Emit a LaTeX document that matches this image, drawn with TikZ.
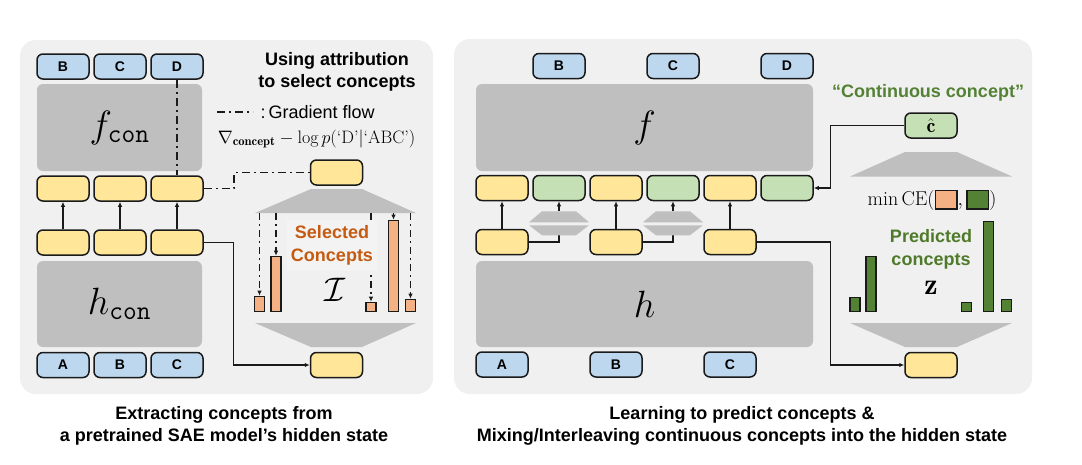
\RequirePackage{fix-cm}
\documentclass[tikz,border=0pt]{standalone}
\usepackage{amsmath,amssymb}
\usepackage{fontspec}
\setsansfont{Liberation Sans}
\usepackage{xcolor}
\usepackage{tikz}
\usetikzlibrary{arrows.meta,positioning,calc}
\definecolor{cPanel}{HTML}{F0F0F0}
\definecolor{cBlock}{HTML}{BFBFBF}
\definecolor{cTok}{HTML}{BDD7EE}
\definecolor{cHid}{HTML}{FFE699}
\definecolor{cCont}{HTML}{C5E0B4}
\definecolor{cBar}{HTML}{F4B183}
\definecolor{cDark}{HTML}{548235}
\definecolor{cSel}{HTML}{C55A11}
\definecolor{cPred}{HTML}{4F7A2A}
\definecolor{cLine}{HTML}{1A1A1A}
\newcommand{\fsz}[2]{\fontsize{#1}{#2}\selectfont}
\newcommand{\cebox}[1]{\raisebox{-3pt}{\setlength{\fboxsep}{0pt}\setlength{\fboxrule}{1.3pt}\fcolorbox{cLine}{#1}{\rule{0pt}{17.4pt}\hspace{20.4pt}}}}
\tikzset{
  tok/.style ={draw=cLine, line width=1.5pt, rounded corners=6pt, fill=cTok,
               minimum width=52pt, minimum height=25pt, inner sep=0pt,
               font=\sffamily\bfseries\fsz{14}{16}},
  hid/.style ={tok, fill=cHid},
  cont/.style={tok, fill=cCont},
  block/.style={fill=cBlock, rounded corners=6pt, inner sep=0pt, font=\fsz{38}{40}},
  obar/.style={draw=cLine, line width=1.3pt, fill=cBar, minimum width=10pt,
               inner sep=0pt, anchor=south},
  gbar/.style={obar, fill=cDark},
  arrow/.style={-{Latex[length=5pt,width=4.5pt]}, line width=1.4pt, draw=cLine},
  darrow/.style={arrow, dash pattern=on 7pt off 4pt on 2pt off 4pt},
  gline/.style={line width=1.6pt, draw=cLine, dash pattern=on 8pt off 4pt on 2pt off 4pt},
  capt/.style={font=\sffamily\bfseries\fsz{18}{22}, align=center},
}

\begin{document}
\begin{tikzpicture}[x=1pt,y=-1pt]
\useasboundingbox (0,0) rectangle (1082,464);
\fill[cPanel, rounded corners=16pt] (20,40) rectangle (433,394);
\fill[cPanel, rounded corners=16pt] (454,39) rectangle (1032,394);

% left panel: extracting concepts
\node[block, minimum width=165pt, minimum height=87pt] (fcon) at (119.5,127.5) {$f_{\mathtt{con}}$};
\node[block, minimum width=165pt, minimum height=86pt] (hcon) at (119.5,304) {$h_{\mathtt{con}}$};
\foreach \n/\x/\t in {1/63/B, 2/120/C, 3/177/D} \node[tok] (tt\n) at (\x,66.5) {\t};
\foreach \n/\x/\t in {1/63/A, 2/120/B, 3/177/C} \node[tok] (tb\n) at (\x,365) {\t};
\foreach \n/\x in {1/63, 2/120, 3/177} {
  \node[hid] (hu\n) at (\x,188.5) {};
  \node[hid] (hl\n) at (\x,242.5) {};
  \draw[arrow] (hl\n) -- (hu\n);
}
\draw[gline] (tt3.south) -- (hu3.north);
\node[hid] (sel) at (336.5,172.5) {};
\node[hid] (ext) at (336.5,365) {};
\draw[gline] (hu3.east) -- ++(30,0) |- (sel.west);
\draw[arrow] (hl3.east) -- ++(30,0) |- (ext.west);
\fill[cBlock] (311,189) -- (362,189) -- (416,213) -- (255,213) -- cycle;
\fill[cBlock] (255,323) -- (416,323) -- (362,347) -- (311,347) -- cycle;

\node[font=\sffamily\bfseries\fsz{18}{22.5}, align=center] (ttl) at (337,72) {Using attribution\\to select concepts};
\node[font=\sffamily\fsz{18}{22}, anchor=west] (leg) at (257,112) {:\,Gradient flow};
\draw[gline] ([xshift=-40pt]leg.west) -- ([xshift=-4pt]leg.west);
\node[font=\fsz{18}{22}] (grad) at (316.5,139) {$\nabla_{\mathbf{concept}}-\log p(\text{`D'}|\text{`ABC'})$};

\coordinate (obase) at (0,213);
\foreach \n/\x/\h in {1/259.5/15, 2/276/55, 3/371/9, 4/393.5/91, 5/410.5/12} {
  \node[obar, minimum height=\h pt] (ob\n) at (\x,312) {};
  \draw[darrow] (ob\n.north |- obase) -- (ob\n.north);
}
\node[font=\sffamily\bfseries\fsz{18}{23}, text=cSel, align=center, fill=cPanel!80!white,
      inner xsep=4pt, inner ysep=6pt] (selc) at (332,245.5) {Selected\\Concepts};
\node[font=\fsz{34}{34}] (iset) at (335,290) {$\mathcal{I}$};

% right panel: predicting and mixing concepts
\node[block, minimum width=337pt, minimum height=87pt] (fm) at (644.5,127.5) {$f$};
\node[block, minimum width=337pt, minimum height=86pt] (hm) at (644.5,304) {$h$};
\foreach \n/\x/\t in {1/559/B, 2/673/C, 3/787/D} \node[tok] (rt\n) at (\x,66) {\t};
\foreach \n/\x/\t in {1/502/A, 2/616/B, 3/730/C} \node[tok] (rb\n) at (\x,364.5) {\t};
\foreach \n/\x in {1/502, 2/616, 3/730} {
  \node[hid] (ru\n) at (\x,188) {};
  \node[hid] (rl\n) at (\x,242) {};
  \node[cont] (rc\n) at (\x+57,188) {};
  \draw[arrow] (rl\n) -- (ru\n);
}
\foreach \n in {1,2} {
  \coordinate (mb\n) at ($(rc\n.south)+(0,34)$);
  \coordinate (mt\n) at ($(rc\n.south)+(0,10)$);
  \draw[line width=1.4pt, cLine] (rl\n.east) -| (mb\n);
  \draw[arrow] (mt\n) -- (rc\n.south);
  \fill[cBlock] ($(mt\n)+(-17,0)$) -- ++(34,0) -- ++(13,11) -- ++(-60,0) -- cycle;
  \fill[cBlock] ($(mb\n)+(-17,0)$) -- ++(34,0) -- ++(13,-10) -- ++(-60,0) -- cycle;
}

\node[font=\sffamily\bfseries\fsz{18}{22}, text=cDark] (ccap) at (928,93) {“Continuous concept”};
\node[cont, font=\fsz{20}{22}] (chat) at (931,125.5) {$\hat{\mathbf{c}}$};
\draw[arrow] (chat.west) -- ++(-74,0) |- (rc3.east);
\fill[cBlock] (905,152) -- (957,152) -- (1012,176.5) -- (850,176.5) -- cycle;
\node[font=\fsz{20}{22}] (ce) at (932,200) {$\min\mathrm{CE}(\cebox{cBar},\cebox{cDark})$};
\foreach \n/\x/\h in {1/855/14, 2/871/55, 3/966.5/9, 4/988.5/90, 5/1006.5/12}
  \node[gbar, minimum height=\h pt] (gb\n) at (\x,312) {};
\node[font=\sffamily\bfseries\fsz{18}{23}, text=cPred, align=center] (pc) at (931,249) {Predicted\\concepts};
\node[font=\fsz{30}{30}] (zv) at (931,288) {$\mathbf{z}$};
\fill[cBlock] (850,323) -- (1012,323) -- (957,347) -- (905,347) -- cycle;
\node[hid] (pout) at (931,365) {};
\draw[arrow] (rl3.east) -- ++(74,0) |- (pout.west);

\node[capt] (capl) at (224,426) {Extracting concepts from\\a pretrained SAE model’s hidden state};
\node[capt] (capr) at (742,426) {Learning to predict concepts \&\\Mixing/Interleaving continuous concepts into the hidden state};
\end{tikzpicture}
\end{document}
